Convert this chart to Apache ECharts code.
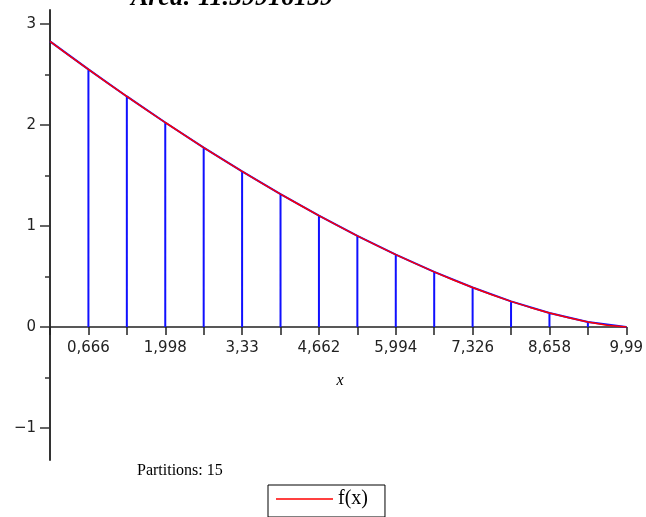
<!DOCTYPE html>
<html>
<head>
<meta charset="utf-8">
<script src="https://cdn.jsdelivr.net/npm/echarts@6/dist/echarts.min.js"></script>
<style>html,body{margin:0;padding:0;background:#fff;}#c{width:646px;height:517px;}</style>
</head>
<body>
<div id="c"></div>
<script>
// ---- data ----
var titleText = 'Area: 11.59916159';
var partitionsText = 'Partitions: 15';
var curveX = [0, 0.333, 0.666, 0.999, 1.332, 1.665, 1.998, 2.331, 2.664, 2.997, 3.33, 3.663, 3.996, 4.329, 4.662, 4.995, 5.328, 5.661, 5.994, 6.327, 6.66, 6.993, 7.326, 7.659, 7.992, 8.325, 8.658, 8.991, 9.324, 9.657, 9.99];
var curveY = [2.828, 2.688, 2.551, 2.415, 2.283, 2.152, 2.025, 1.900, 1.777, 1.658, 1.541, 1.427, 1.316, 1.208, 1.103, 1.002, 0.903, 0.808, 0.717, 0.630, 0.546, 0.466, 0.391, 0.320, 0.254, 0.194, 0.139, 0.091, 0.050, 0.018, 0.0];
var partitionX = [0, 0.666, 1.332, 1.998, 2.664, 3.33, 3.996, 4.662, 5.328, 5.994, 6.66, 7.326, 7.992, 8.658, 9.324, 9.99];
var partitionY = [2.828, 2.551, 2.283, 2.025, 1.777, 1.541, 1.316, 1.103, 0.903, 0.717, 0.546, 0.391, 0.254, 0.139, 0.050, 0.0];
var xLabelValues = [0.666, 1.998, 3.33, 4.662, 5.994, 7.326, 8.658, 9.99];
var xLabelTexts = ['0,666', '1,998', '3,33', '4,662', '5,994', '7,326', '8,658', '9,99'];
var yLabelValues = [-1, 0, 1, 2, 3];
var yLabelTexts = ['\u22121', '0', '1', '2', '3'];
var yMinorTicks = [-0.5, 0.5, 1.5, 2.5];

var yMin = -1.317, yMax = 3.139;
var gridTop = 10, gridBottom = 57, chartH = 517;
var plotH = chartH - gridTop - gridBottom;
var zeroOffset = -plotH * (0 - yMin) / (yMax - yMin); // move x axis up to y = 0

var curveData = curveX.map(function (x, i) { return [x, curveY[i]]; });
var blueData = [];
for (var i = 0; i < partitionX.length; i++) {
  if (i > 0) blueData.push([partitionX[i], 0]);
  blueData.push([partitionX[i], partitionY[i]]);
  if (i + 1 < partitionX.length) blueData.push([partitionX[i + 1], partitionY[i + 1]]);
}

function lookup(vals, texts) {
  return function (v) {
    for (var k = 0; k < vals.length; k++) if (Math.abs(vals[k] - v) < 1e-6) return texts[k];
    return '';
  };
}

var chart = echarts.init(document.getElementById('c'), null, {renderer: 'canvas'});
var axisCol = '#222';
chart.setOption({
  animation: false,
  backgroundColor: '#fff',
  grid: {left: 50, right: 16, top: gridTop, bottom: gridBottom, containLabel: false},
  xAxis: {
    type: 'value', min: 0, max: 9.99, position: 'bottom', offset: zeroOffset,
    axisLine: {onZero: false, lineStyle: {color: axisCol, width: 1.5}},
    axisTick: {show: true, length: 8, customValues: partitionX, lineStyle: {color: axisCol, width: 1.5}},
    axisLabel: {customValues: xLabelValues, formatter: lookup(xLabelValues, xLabelTexts), margin: 14,
      fontFamily: 'DejaVu Sans', fontSize: 15, color: '#222'},
    splitLine: {show: false}
  },
  yAxis: [{
    type: 'value', min: yMin, max: yMax,
    axisLine: {show: true, onZero: false, lineStyle: {color: '#333', width: 2}},
    axisTick: {show: true, length: 10, customValues: yLabelValues, lineStyle: {color: '#333', width: 1.5}},
    axisLabel: {customValues: yLabelValues, formatter: lookup(yLabelValues, yLabelTexts), margin: 14,
      fontFamily: 'DejaVu Sans', fontSize: 15, color: '#222'},
    splitLine: {show: false}
  }, {
    type: 'value', min: yMin, max: yMax, position: 'left',
    axisLine: {show: false},
    axisTick: {show: true, length: 5, customValues: yMinorTicks, lineStyle: {color: '#333', width: 1.5}},
    axisLabel: {show: false},
    splitLine: {show: false}
  }],
  legend: {
    show: true, left: 268, top: 485,
    data: [{name: 'f(x)', icon: 'rect'}],
    itemWidth: 57, itemHeight: 1.5,
    borderColor: '#000', borderWidth: 1, borderRadius: 0,
    backgroundColor: '#fff',
    padding: [4, 17, 8, 8],
    textStyle: {fontFamily: 'Liberation Serif', fontSize: 20, color: '#000'}
  },
  series: [{
    name: 'partitions', type: 'line', data: blueData, symbol: 'none', z: 2,
    lineStyle: {color: '#1010ff', width: 2}, itemStyle: {color: '#1010ff'}
  }, {
    name: 'f(x)', type: 'line', data: curveData, symbol: 'none', z: 3,
    lineStyle: {color: '#ff0000', width: 1.5}, itemStyle: {color: '#ff0000'}
  }],
  graphic: [
    {type: 'text', style: {text: titleText, x: 232, y: -2, textAlign: 'center', textVerticalAlign: 'middle',
      font: 'italic bold 26px "Liberation Serif"', fill: '#000'}},
    {type: 'text', style: {text: 'x', x: 340, y: 381, textAlign: 'center', textVerticalAlign: 'middle',
      font: 'italic 16px "Liberation Serif"', fill: '#000'}},
    {type: 'text', style: {text: partitionsText, x: 137, y: 471, textAlign: 'left', textVerticalAlign: 'middle',
      font: '16px "Liberation Serif"', fill: '#000'}}
  ]
});
</script>
</body>
</html>
